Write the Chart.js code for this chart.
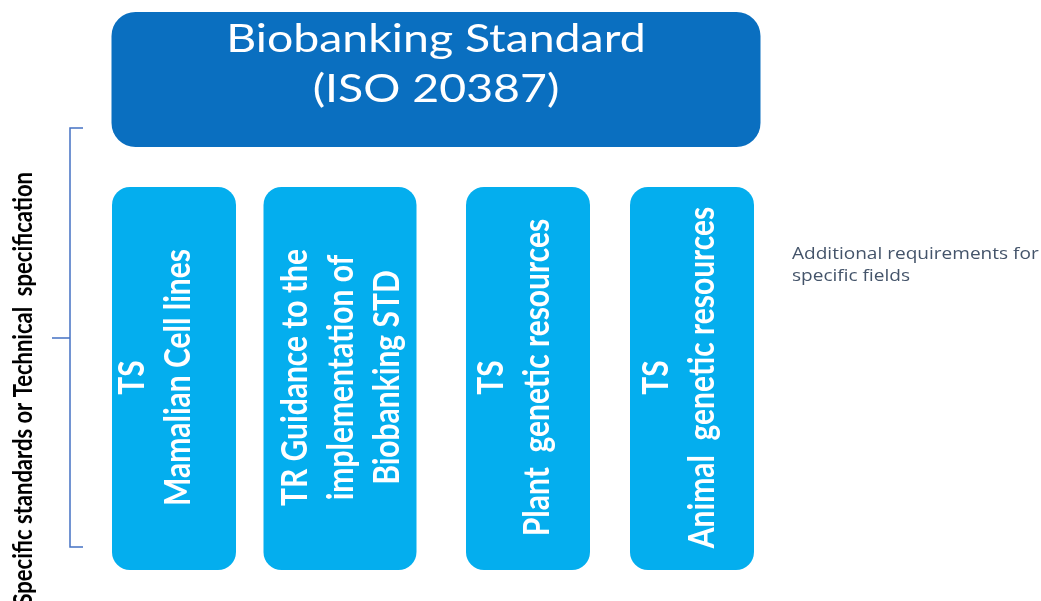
<!DOCTYPE html>
<html>
<head>
<meta charset="utf-8">
<script src="https://cdn.jsdelivr.net/npm/chart.js@4.4.1/dist/chart.umd.min.js"></script>
<style>
  html, body { margin: 0; padding: 0; background: #ffffff; }
  #wrap { width: 1041px; height: 601px; }
</style>
</head>
<body>
<div id="wrap"><canvas id="chart" width="1041" height="601"></canvas></div>
<script>
// textos del diagrama
const headerLines = ['Biobanking Standard', '(ISO 20387)'];
const columnLabels = [
    ['TS', 'Mamalian Cell lines'],
    ['TR Guidance to the', 'implementation of', 'Biobanking STD'],
    ['TS', 'Plant  genetic resources'],
    ['TS', 'Animal  genetic resources']
];
const sideLabel = 'Specific standards or Technical  specification';
const noteLines = ['Additional requirements for', 'specific fields'];

// disposicion de las cajas (unidades de la escala)
const headerCenter = [436];
const headerSpan = [12, 147];
const narrowCenters = [174, 528, 692];
const wideCenters = [340];
const columnSpan = [187, 570];

// orden de las columnas tal como aparecen de izquierda a derecha
const columnOrder = [[1, 0], [2, 0], [1, 1], [1, 2]];
// desplazamiento del bloque de texto dentro de cada columna
const textShift = [-19, 1, -14, -13];

// la imagen original esta estirada en horizontal
const stretchX = 1.19;

function texto(ctx, t, px, py, vertical) {
    ctx.save();
    ctx.translate(px, py);
    ctx.scale(stretchX, 1);
    if (vertical) ctx.rotate(-Math.PI / 2);
    ctx.fillText(t, 0, 0);
    ctx.restore();
}

const diagramText = {
    id: 'diagramText',
    afterDatasetsDraw(chart) {
        const ctx = chart.ctx;
        const sx = chart.scales.x;
        const sy = chart.scales.y;

        // caja superior
        const head = chart.getDatasetMeta(0).data[0];
        ctx.save();
        ctx.fillStyle = '#ffffff';
        ctx.textAlign = 'center';
        ctx.textBaseline = 'middle';
        ctx.font = '39px Lato, "Open Sans", sans-serif';
        texto(ctx, headerLines[0], head.x, sy.getPixelForValue(39), false);
        texto(ctx, headerLines[1], head.x, sy.getPixelForValue(89), false);
        ctx.restore();

        // columnas con texto vertical
        columnOrder.forEach(([ds, idx], i) => {
            const bar = chart.getDatasetMeta(ds).data[idx];
            const lines = columnLabels[i];
            const lh = 46;
            const midY = (bar.y + bar.base) / 2 - 1;
            ctx.save();
            ctx.fillStyle = '#ffffff';
            ctx.textAlign = 'center';
            ctx.textBaseline = 'middle';
            ctx.font = 'bold 30px Lato, "Open Sans", sans-serif';
            const off = (lines.length - 1) / 2;
            lines.forEach((t, k) => {
                texto(ctx, t, bar.x + textShift[i] + (k - off) * lh, midY, true);
            });
            ctx.restore();
        });

        // corchete lateral
        const bx = sx.getPixelForValue(70);
        const top = sy.getPixelForValue(128);
        const bot = sy.getPixelForValue(547);
        const mid = sy.getPixelForValue(338);
        ctx.save();
        ctx.strokeStyle = '#4472C4';
        ctx.lineWidth = 1.5;
        ctx.beginPath();
        ctx.moveTo(sx.getPixelForValue(83), top);
        ctx.lineTo(bx, top);
        ctx.lineTo(bx, bot);
        ctx.lineTo(sx.getPixelForValue(83), bot);
        ctx.moveTo(bx, mid);
        ctx.lineTo(sx.getPixelForValue(52), mid);
        ctx.stroke();
        ctx.restore();

        // etiqueta lateral
        ctx.save();
        ctx.fillStyle = '#000000';
        ctx.textAlign = 'right';
        ctx.textBaseline = 'alphabetic';
        ctx.font = 'bold 22px Lato, "Open Sans", sans-serif';
        texto(ctx, sideLabel, sx.getPixelForValue(32), sy.getPixelForValue(172), true);
        ctx.restore();

        // nota de la derecha
        ctx.save();
        ctx.fillStyle = '#44546A';
        ctx.textAlign = 'left';
        ctx.textBaseline = 'alphabetic';
        ctx.font = '16px "Open Sans", sans-serif';
        texto(ctx, noteLines[0], sx.getPixelForValue(792), sy.getPixelForValue(259), false);
        texto(ctx, noteLines[1], sx.getPixelForValue(792), sy.getPixelForValue(281), false);
        ctx.restore();
    }
};

function crearDiagrama() {
    const container = document.getElementById('chart');
    if (!container) return;

    const boxStyle = {
        borderSkipped: false,
        grouped: false,
        borderWidth: 0,
        inflateAmount: 0
    };

    new Chart(container, {
        type: 'bar',
        data: {
            datasets: [
                Object.assign({
                    data: headerCenter.map(x => ({ x: x, y: headerSpan })),
                    backgroundColor: '#0A6FC0',
                    barThickness: 649,
                    borderRadius: 24
                }, boxStyle),
                Object.assign({
                    data: narrowCenters.map(x => ({ x: x, y: columnSpan })),
                    backgroundColor: '#04AEEE',
                    barThickness: 124,
                    borderRadius: 18
                }, boxStyle),
                Object.assign({
                    data: wideCenters.map(x => ({ x: x, y: columnSpan })),
                    backgroundColor: '#04AEEE',
                    barThickness: 153,
                    borderRadius: 18
                }, boxStyle)
            ]
        },
        options: {
            responsive: false,
            animation: false,
            layout: { padding: 0 },
            scales: {
                x: { type: 'linear', min: 0, max: 1041, offset: false, display: false },
                y: { type: 'linear', min: 0, max: 601, reverse: true, display: false }
            },
            plugins: {
                legend: { display: false },
                tooltip: { enabled: false }
            }
        },
        plugins: [diagramText]
    });
}

crearDiagrama();
</script>
</body>
</html>
